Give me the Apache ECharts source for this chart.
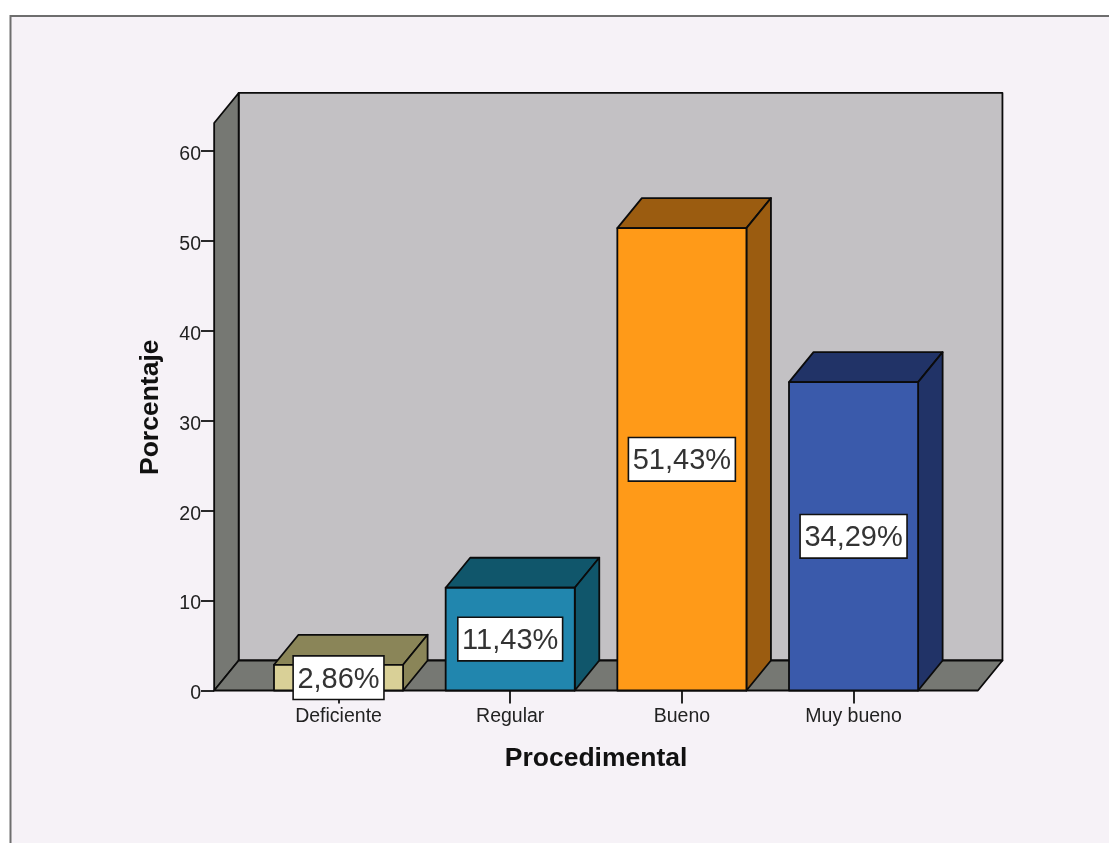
<!DOCTYPE html>
<html lang="es">
<head>
<meta charset="utf-8">
<title>Procedimental</title>
<style>
  html, body { margin: 0; padding: 0; background: #ffffff; }
  #chart { width: 1109px; height: 843px; }
</style>
<script src="https://cdn.jsdelivr.net/npm/echarts@6/dist/echarts.min.js"></script>
</head>
<body>
<div id="chart"></div>
<script>
// Distribution of the "Procedimental" levels, in percent
const categories = ['Deficiente', 'Regular', 'Bueno', 'Muy bueno'];
const percentages = [2.86, 11.43, 51.43, 34.29];
const valueLabels = ['2,86%', '11,43%', '51,43%', '34,29%'];
const frontColors = ['#d9d097', '#2186ae', '#ff9a18', '#3a5aab'];
const shadeColors = ['#8a8558', '#10566b', '#9b5c10', '#213367'];

// Oblique projection of the pseudo-3D box, in pixels
const DEPTH_X = 24.5;
const DEPTH_Y = 30;
const BAR_RATIO = 0.752;       // bar width as a share of the category band
const WALL_TOP = 63.12;        // height of the box on the value axis
const SIDE_OVERHANG = 0.2245;  // box overhang past the outer bands, in bands

const LINE = { stroke: '#0b0b0b', lineWidth: 1.8, lineJoin: 'round' };

function face(points, fill) {
  return {
    type: 'polygon',
    shape: { points: points },
    style: Object.assign({ fill: fill }, LINE)
  };
}

// Back wall, left wall and floor of the box
function renderFrame(params, api) {
  const band = api.size([1, 0])[0];
  const origin = api.coord([0, 0]);
  const last = api.coord([categories.length - 1, 0]);
  const top = api.coord([0, WALL_TOP])[1];
  const left = origin[0] - band * (0.5 + SIDE_OVERHANG);
  const right = last[0] + band * (0.5 + SIDE_OVERHANG);
  const floor = origin[1];
  return {
    type: 'group',
    children: [
      face([[left + DEPTH_X, top - DEPTH_Y], [right + DEPTH_X, top - DEPTH_Y],
            [right + DEPTH_X, floor - DEPTH_Y], [left + DEPTH_X, floor - DEPTH_Y]], '#c3c1c4'),
      face([[left, top], [left + DEPTH_X, top - DEPTH_Y],
            [left + DEPTH_X, floor - DEPTH_Y], [left, floor]], '#767873'),
      face([[left, floor], [left + DEPTH_X, floor - DEPTH_Y],
            [right + DEPTH_X, floor - DEPTH_Y], [right, floor]], '#767873')
    ]
  };
}

// One extruded bar: front, top and right faces
function renderBar(params, api) {
  const index = api.value(0);
  const value = api.value(1);
  const base = api.coord([index, 0]);
  const head = api.coord([index, value]);
  const half = api.size([1, 0])[0] * BAR_RATIO / 2;
  const x0 = base[0] - half;
  const x1 = base[0] + half;
  const yTop = head[1];
  const yBase = base[1];
  return {
    type: 'group',
    children: [
      face([[x0, yTop], [x0 + DEPTH_X, yTop - DEPTH_Y],
            [x1 + DEPTH_X, yTop - DEPTH_Y], [x1, yTop]], shadeColors[index]),
      face([[x1, yTop], [x1 + DEPTH_X, yTop - DEPTH_Y],
            [x1 + DEPTH_X, yBase - DEPTH_Y], [x1, yBase]], shadeColors[index]),
      face([[x0, yTop], [x1, yTop], [x1, yBase], [x0, yBase]], frontColors[index])
    ]
  };
}

// Boxed percentage centred on the front face of each bar
function renderValueLabel(params, api) {
  const index = api.value(0);
  const value = api.value(1);
  const point = api.coord([index, value / 2]);
  return {
    type: 'text',
    x: point[0],
    y: point[1],
    style: {
      text: '{v|' + valueLabels[index] + '}',
      rich: {
        v: {
          font: '29px "Liberation Sans"',
          lineHeight: 30,
          fill: '#333333',
          padding: [4, 0, 0, 0]
        }
      },
      align: 'center',
      verticalAlign: 'middle',
      backgroundColor: '#ffffff',
      borderColor: '#111111',
      borderWidth: 1.6,
      padding: [6, 3.5, 6, 3.5]
    }
  };
}

const barData = percentages.map((v, i) => [i, v]);

const chart = echarts.init(document.getElementById('chart'), null, { renderer: 'canvas' });
chart.setOption({
  animation: false,
  backgroundColor: '#ffffff',
  graphic: [{
    type: 'rect',
    z: -1,
    shape: { x: 10.5, y: 16, width: 1200, height: 1000 },
    style: { fill: '#f6f2f7', stroke: '#6e6e6e', lineWidth: 2 }
  }],
  grid: { left: 252.7, top: 151, width: 686.7, height: 539.5 },
  xAxis: {
    type: 'category',
    data: categories,
    name: 'Procedimental',
    nameLocation: 'middle',
    nameGap: 55,
    nameTextStyle: { fontFamily: 'Liberation Sans', fontSize: 26.5, fontWeight: 'bold', color: '#111111' },
    axisLine: { show: false },
    axisTick: { show: true, alignWithLabel: true, length: 13, lineStyle: { color: '#111111', width: 1.8 } },
    axisLabel: { margin: 16, fontFamily: 'Liberation Sans', fontSize: 19.5, color: '#222222' },
    splitLine: { show: false }
  },
  yAxis: {
    type: 'value',
    min: 0,
    max: 60,
    interval: 10,
    offset: 38.7,
    name: 'Porcentaje',
    nameLocation: 'middle',
    nameGap: 50,
    nameTextStyle: { fontFamily: 'Liberation Sans', fontSize: 26.5, fontWeight: 'bold', color: '#111111', padding: [0, 0, 0, 27] },
    axisLine: { show: false },
    axisTick: { show: true, length: 13, lineStyle: { color: '#111111', width: 1.8 } },
    axisLabel: {
      margin: 13,
      formatter: '{v|{value}}',
      rich: { v: { padding: [7, 0, 0, 0], fontFamily: 'Liberation Sans', fontSize: 19.5, color: '#222222' } }
    },
    splitLine: { show: false }
  },
  series: [
    { type: 'custom', z: 2, clip: false, silent: true, renderItem: renderFrame, data: [[0, 0]] },
    { type: 'custom', z: 3, clip: false, silent: true, renderItem: renderBar, data: barData },
    { type: 'custom', z: 4, clip: false, silent: true, renderItem: renderValueLabel, data: barData }
  ]
});
</script>
</body>
</html>
